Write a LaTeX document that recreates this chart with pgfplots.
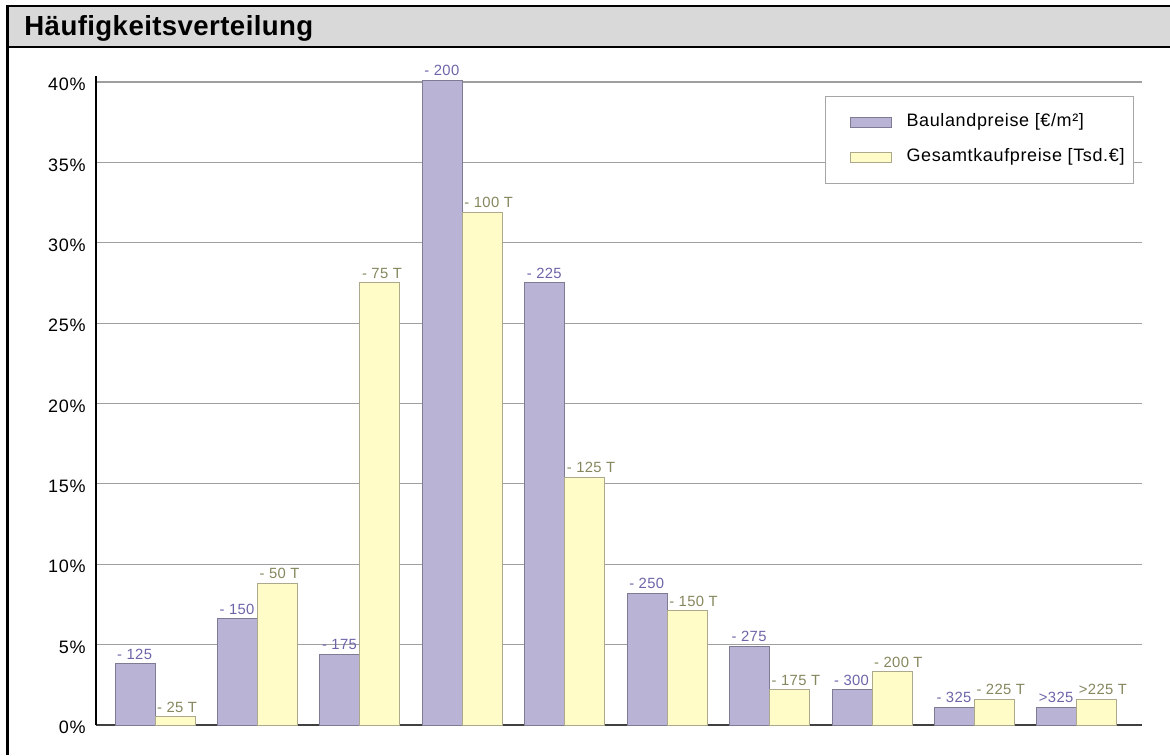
\documentclass[border=0pt]{standalone}
\usepackage{fontspec}
\setmainfont{Liberation Sans}
\usepackage{pgfplots}
\pgfplotsset{compat=1.18}
\definecolor{pfill}{HTML}{B9B4D6}
\definecolor{pdraw}{HTML}{7F7B95}
\definecolor{yfill}{HTML}{FFFCC8}
\definecolor{ydraw}{HTML}{ABA88C}
\definecolor{ptext}{HTML}{6B65A8}
\definecolor{ytext}{HTML}{86865E}
\definecolor{titlegray}{HTML}{D9D9D9}
\begin{document}
\begin{tikzpicture}
\path[use as bounding box] (0,0) rectangle (585pt,-377.5pt);
\fill[titlegray] (3.75pt,-3.1pt) rectangle (585pt,-23.6pt);
\draw[line width=1.2pt] (3.1pt,-3.1pt) -- (585pt,-3.1pt);
\draw[line width=1.2pt] (3.75pt,-23.6pt) -- (585pt,-23.6pt);
\draw[line width=1.35pt] (3.75pt,-2.5pt) -- (3.75pt,-377.5pt);
\node[anchor=base west, inner sep=0pt, font=\fontsize{13.8pt}{16pt}\selectfont\bfseries\addfontfeature{LetterSpace=1.5}] at (12pt,-17.7pt) {Häufigkeitsverteilung};
\begin{axis}[
  anchor=south west, at={(48pt,-362.5pt)},
  scale only axis, width=523pt, height=324.7pt,
  xmin=-0.577, xmax=9.636, ymin=0, ymax=40.4,
  ybar=0pt, bar width=20pt,
  axis x line*=bottom, axis y line*=left,
  axis line style={-},
  x axis line style={draw=black!75, line width=1.2pt},
  y axis line style={draw=black, line width=1pt},
  xtick=\empty,
  ytick={0,5,...,40},
  major tick length=0pt,
  /pgf/number format/assume math mode=true,
  yticklabel={\pgfmathprintnumber{\tick}\%},
  yticklabel style={anchor=east, inner sep=0pt, font=\fontsize{9pt}{10pt}\selectfont\addfontfeature{LetterSpace=4}, xshift=-5pt, yshift=-1.2pt},
  ymajorgrids, grid style={draw=gray!75, line width=0.6pt},
  point meta=explicit symbolic,
  nodes near coords,
  every node near coord/.append style={anchor=south west, xshift=-10pt, inner xsep=0.8pt, inner ysep=2pt, font=\fontsize{7.4pt}{8pt}\selectfont\addfontfeature{LetterSpace=2.5}},
  legend style={at={(1,1)}, anchor=north east, xshift=-4pt, yshift=-10.2pt,
    draw=gray!70, line width=0.5pt, fill=white, inner xsep=4.5pt, inner ysep=9pt,
    row sep=9.5pt, column sep=7.3pt,
    font=\fontsize{9pt}{10pt}\selectfont\addfontfeature{LetterSpace=3.5},
    nodes={anchor=west, inner xsep=0pt, inner ysep=0pt, text height=6pt, text depth=2pt}},
  legend cell align=left,
]
\addplot[fill=pfill, draw=pdraw, line width=0.5pt,
  every node near coord/.append style={text=ptext},
  legend image code/.code={\path (0pt,0pt); \draw[fill=pfill, draw=pdraw, line width=0.5pt] (7.5pt,-2.65pt) rectangle (28pt,2.65pt);}]
coordinates {
(0,3.8) [- 125]
(1,6.6) [- 150]
(2,4.4) [- 175]
(3,40.1) [- 200]
(4,27.5) [- 225]
(5,8.2) [- 250]
(6,4.9) [- 275]
(7,2.2) [- 300]
(8,1.1) [- 325]
(9,1.1) [>325]
};
\addlegendentry{Baulandpreise [€/m²]}
\addplot[fill=yfill, draw=ydraw, line width=0.5pt,
  every node near coord/.append style={text=ytext},
  legend image code/.code={\path (0pt,0pt); \draw[fill=yfill, draw=ydraw, line width=0.5pt] (7.5pt,-2.65pt) rectangle (28pt,2.65pt);}]
coordinates {
(0,0.5) [- 25 T]
(1,8.8) [- 50 T]
(2,27.5) [- 75 T]
(3,31.9) [- 100 T]
(4,15.4) [- 125 T]
(5,7.1) [- 150 T]
(6,2.2) [- 175 T]
(7,3.3) [- 200 T]
(8,1.6) [- 225 T]
(9,1.6) [>225 T]
};
\addlegendentry{Gesamtkaufpreise [Tsd.€]}
\end{axis}
\end{tikzpicture}
\end{document}
